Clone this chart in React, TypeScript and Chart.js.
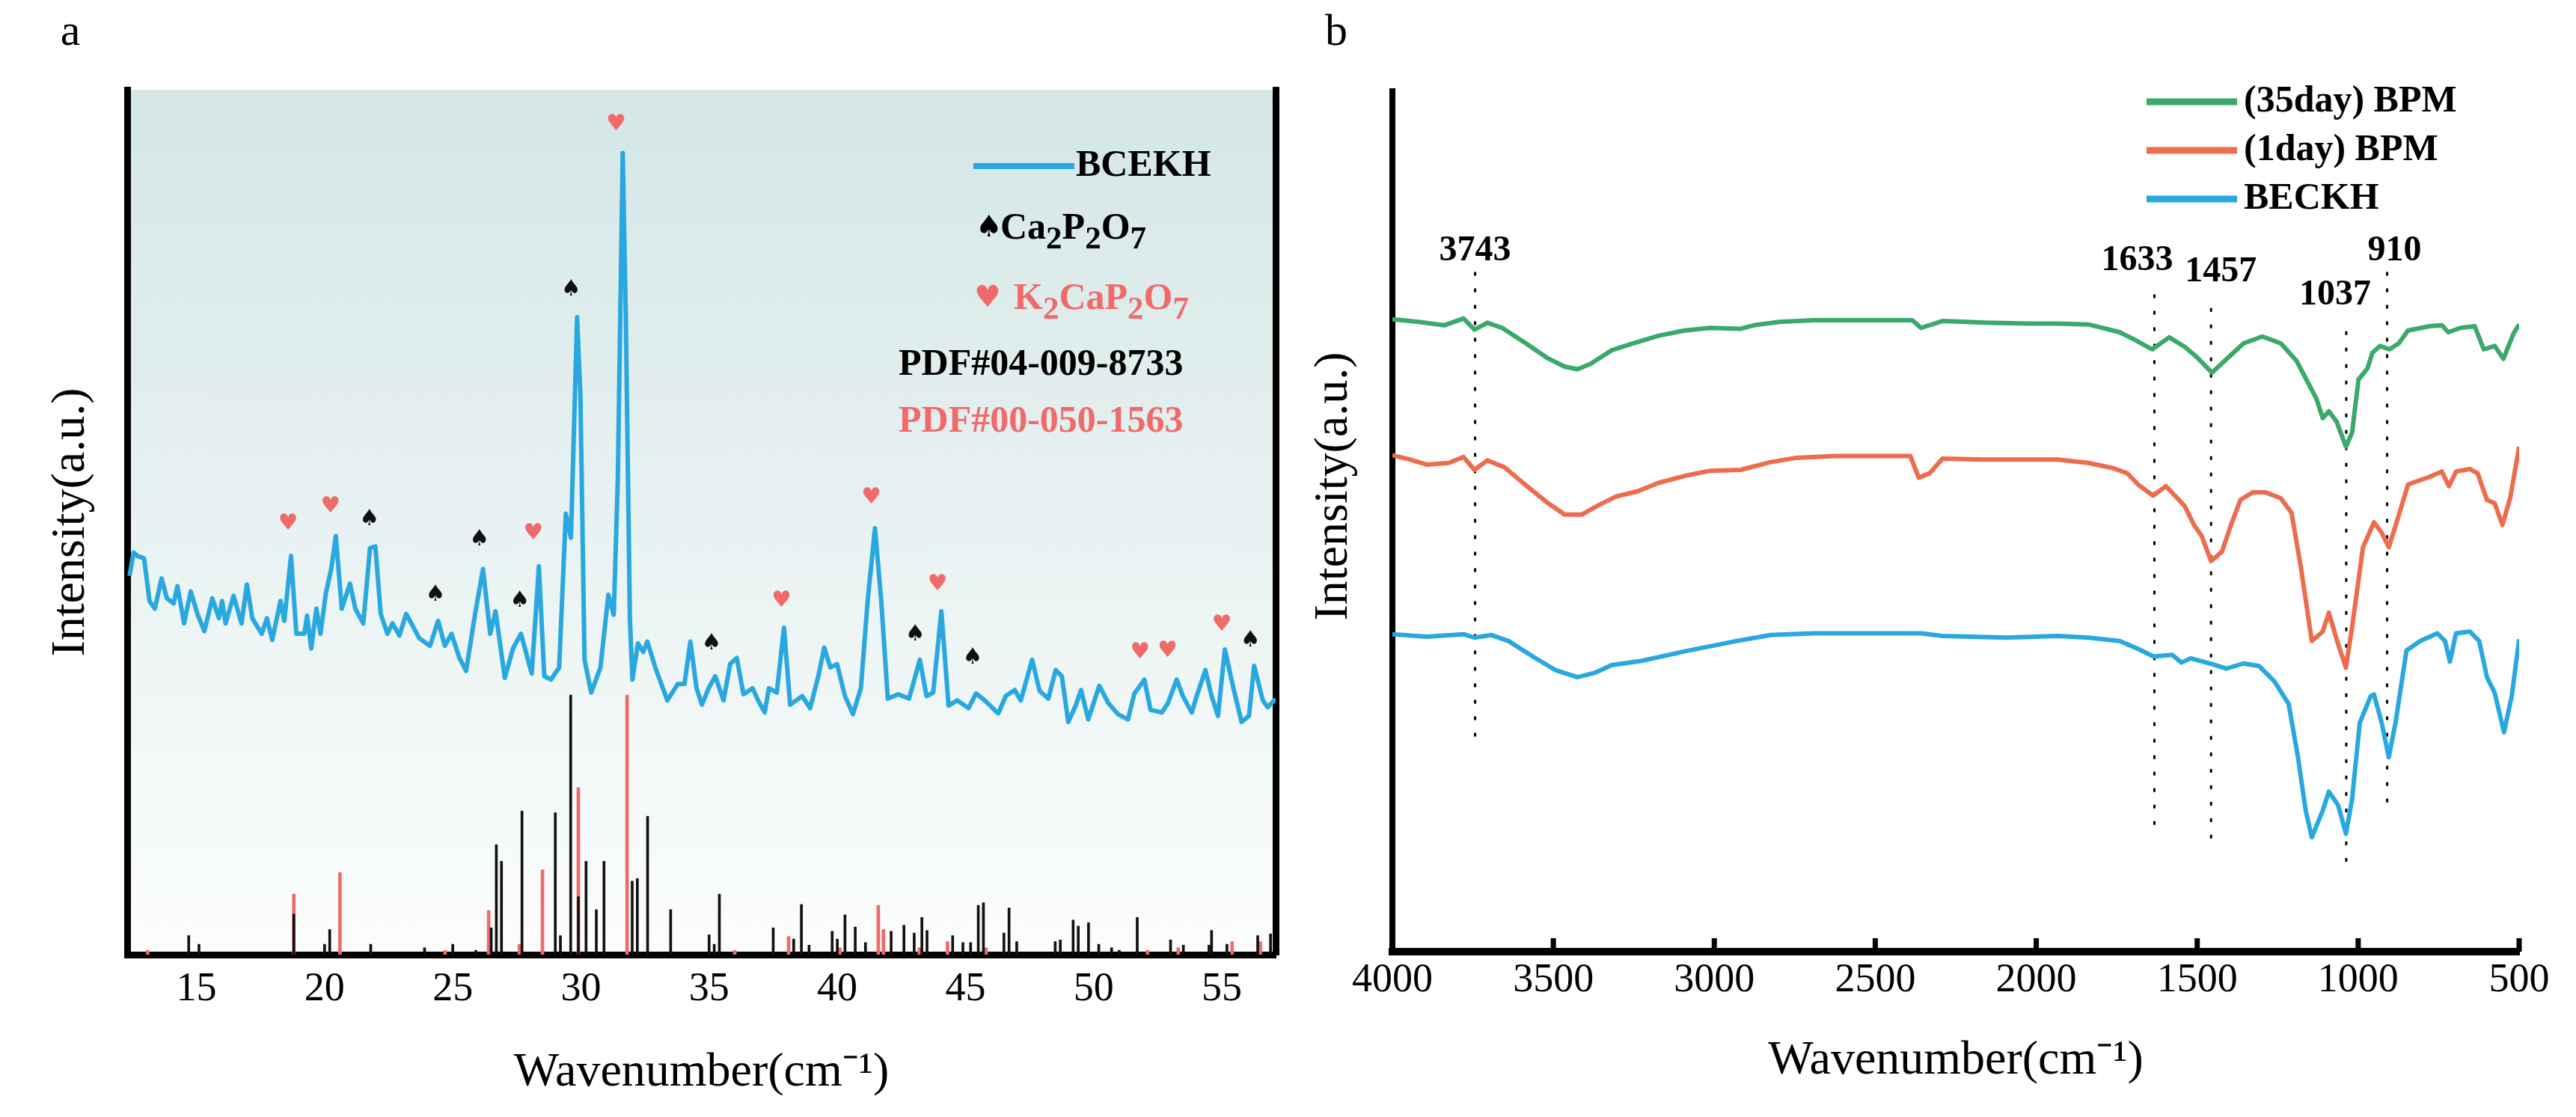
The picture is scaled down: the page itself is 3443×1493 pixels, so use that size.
import { useEffect, useRef } from "react"
import { Chart, registerables } from "chart.js"

Chart.register(...registerables)

const SERIF = '"Liberation Serif", "Times New Roman", serif'
const SUIT = '"DejaVu Sans", sans-serif'
const BLUE = "#29a8e0"
const RED = "#f06a6a"
const GREEN = "#3aa96a"
const ORANGE = "#ed6c4e"

// ---- panel a: XRD of BCEKH ----
const xrdAngle = [
  12.39, 12.55, 12.7, 12.96, 13.17, 13.38, 13.64, 13.85, 14.11, 14.26, 14.52, 14.78, 15.04, 15.31, 15.62,
  15.88, 16.0, 16.14, 16.45, 16.76, 16.97, 17.18, 17.55, 17.75, 17.96, 18.28, 18.43, 18.69, 18.9, 19.21,
  19.32, 19.48, 19.68, 19.84, 20.05, 20.26, 20.44, 20.67, 20.99, 21.2, 21.51, 21.77, 21.98, 22.19, 22.45,
  22.65, 22.92, 23.18, 23.44, 23.69, 24.11, 24.43, 24.69, 24.95, 25.26, 25.52, 25.89, 26.18, 26.46, 26.67,
  27.03, 27.35, 27.66, 28.08, 28.36, 28.57, 28.83, 29.15, 29.41, 29.61, 29.85, 29.98, 30.14, 30.4, 30.76,
  31.07, 31.28, 31.44, 31.63, 31.75, 31.91, 32.01, 32.22, 32.43, 32.59, 32.9, 33.37, 33.78, 34.04, 34.27,
  34.51, 34.72, 34.98, 35.24, 35.56, 35.82, 36.08, 36.34, 36.7, 36.91, 37.17, 37.33, 37.64, 37.92, 38.16,
  38.63, 38.94, 39.26, 39.49, 39.73, 39.99, 40.3, 40.61, 40.92, 41.19, 41.47, 41.71, 41.97, 42.38, 42.8,
  43.22, 43.48, 43.74, 44.06, 44.34, 44.68, 45.12, 45.41, 45.75, 46.28, 46.57, 46.92, 47.16, 47.6, 47.89,
  48.23, 48.52, 48.76, 49.01, 49.3, 49.51, 49.79, 50.22, 50.57, 50.95, 51.34, 51.59, 51.98, 52.22, 52.66,
  52.9, 53.24, 53.48, 53.83, 54.02, 54.36, 54.6, 54.85, 55.12, 55.43, 55.77, 56.06, 56.26, 56.6, 56.79,
  57.04, 57.1,
]
const xrdIntensity = [
  43.8, 46.5, 46.1, 45.8, 40.9, 40.0, 43.5, 41.2, 40.6, 42.6, 38.3, 42.0, 39.4, 37.4, 41.2,
  38.9, 40.9, 38.3, 41.5, 38.3, 42.8, 38.9, 37.1, 38.9, 36.4, 40.9, 38.6, 46.1, 37.1, 37.1,
  39.2, 35.4, 40.0, 37.1, 41.8, 44.6, 48.4, 40.0, 42.9, 40.0, 38.3, 47.0, 47.2, 39.4, 37.1,
  38.3, 36.9, 39.4, 38.0, 36.6, 35.7, 38.6, 35.7, 37.1, 34.3, 32.8, 39.7, 44.6, 37.1, 39.7,
  32.0, 35.4, 37.1, 32.5, 44.9, 32.2, 31.8, 33.2, 51.0, 48.2, 73.7, 64.6, 34.1, 30.3, 33.2,
  41.6, 39.3, 55.2, 92.7, 73.9, 38.8, 31.8, 36.0, 35.0, 36.2, 33.2, 29.4, 31.3, 31.3, 36.2,
  30.8, 28.9, 30.8, 32.2, 29.4, 33.6, 34.3, 30.1, 30.8, 29.4, 28.0, 30.8, 30.3, 37.8, 28.9,
  29.9, 28.5, 32.2, 35.5, 33.2, 33.6, 29.9, 27.8, 30.8, 41.1, 49.3, 41.1, 29.6, 30.1, 29.6,
  34.1, 29.9, 30.3, 39.7, 28.8, 29.4, 28.5, 30.2, 29.4, 27.9, 29.9, 30.6, 29.4, 34.1, 30.5,
  29.6, 32.9, 32.2, 26.9, 28.8, 30.6, 27.2, 31.1, 29.1, 27.8, 27.2, 30.2, 31.8, 28.3, 28.0,
  29.1, 31.8, 29.9, 28.0, 29.9, 32.9, 29.9, 27.6, 35.3, 31.1, 26.9, 27.6, 33.4, 29.4, 28.6,
  29.4, 29.2,
]

// reference card PDF#04-009-8733 (Ca2P2O7), black sticks
const pdfCaAngle = [
  14.7, 15.1, 18.8, 20.0, 20.2, 21.8, 23.9, 25.0, 25.9, 26.5, 26.7, 26.9, 27.7, 29.0, 29.2, 29.6, 29.9,
  30.2, 30.6, 30.9, 32.0, 32.2, 32.6, 33.5, 35.0, 35.2, 35.4, 37.5, 38.3, 38.6, 38.9, 39.8, 40.0, 40.3,
  40.7, 41.1, 42.1, 42.6, 43.0, 43.3, 43.5, 44.5, 44.9, 45.2, 45.5, 45.7, 46.5, 46.7, 47.0, 48.5, 48.7,
  49.2, 49.4, 49.8, 50.2, 50.7, 51.0, 51.7, 53.0, 53.5, 54.5, 54.6, 55.2, 56.4, 56.9,
]
const pdfCaHeight = [
  2.2, 1.2, 4.7, 1.2, 2.9, 1.2, 0.8, 1.2, 0.5, 3.1, 12.7, 10.8, 16.6, 16.4, 2.2, 30.0, 6.7,
  10.8, 5.2, 10.8, 8.5, 8.8, 16.0, 5.2, 2.3, 1.2, 7.0, 3.1, 1.8, 5.8, 1.1, 2.7, 1.8, 4.6,
  3.2, 1.4, 2.7, 3.4, 2.5, 4.3, 2.8, 2.2, 1.4, 1.4, 5.7, 6.0, 2.5, 5.4, 1.5, 1.5, 1.7,
  4.0, 3.3, 3.7, 1.2, 0.8, 0.5, 4.3, 1.7, 1.1, 1.1, 2.8, 1.2, 2.2, 2.4,
]

// reference card PDF#00-050-1563 (K2CaP2O7), red sticks
const pdfKAngle = [
  13.1, 18.8, 20.6, 24.7, 26.4, 27.6, 28.5, 29.9, 31.8, 36.0, 38.1, 40.1, 41.6, 41.8, 43.2, 44.3, 45.8,
  52.1, 53.3, 55.4, 56.5,
]
const pdfKHeight = [
  0.5, 7.0, 9.5, 0.5, 5.1, 1.2, 9.8, 19.3, 30.0, 0.5, 2.1, 0.8, 5.7, 2.9, 0.8, 1.5, 0.8,
  0.5, 0.8, 1.5, 1.5,
]

// phase markers above the peaks
const spadeAngle = [21.75, 24.32, 26.04, 27.61, 29.61, 35.09, 43.04, 45.28, 56.11]
const spadeLevel = [50.3, 41.6, 48.0, 40.9, 76.9, 36.0, 37.0, 34.3, 36.3]
const heartAngle = [18.57, 20.23, 28.14, 31.37, 37.82, 41.32, 43.91, 51.81, 52.88, 55.0]
const heartLevel = [49.8, 51.8, 48.7, 96.0, 40.9, 52.8, 42.8, 34.9, 35.1, 38.1]

const xrdTicks = [15, 20, 25, 30, 35, 40, 45, 50, 55]

// ---- panel b: FTIR ----
const ftirTicks = [4000, 3500, 3000, 2500, 2000, 1500, 1000, 500]

const bpm35Wn = [
  4000, 3919, 3839, 3779, 3745, 3705, 3659, 3585, 3519, 3465, 3425, 3385, 3319, 3252, 3172, 3092, 3012,
  2918, 2878, 2798, 2691, 2558, 2385, 2358, 2291, 2158, 2025, 1934, 1838, 1741, 1693, 1640, 1587, 1539,
  1501, 1454, 1414, 1356, 1298, 1240, 1192, 1154, 1130, 1110, 1091, 1067, 1038, 1019, 999, 971, 956,
  932, 903, 874, 845, 778, 740, 720, 682, 638, 610, 576, 549, 518, 500,
]
const bpm35Value = [
  73.5, 73.2, 72.8, 73.6, 72.3, 73.1, 72.5, 70.7, 69.0, 68.0, 67.7, 68.3, 69.9, 70.7, 71.6, 72.2, 72.5,
  72.4, 72.8, 73.2, 73.4, 73.4, 73.4, 72.5, 73.3, 73.1, 73.0, 73.0, 72.9, 72.0, 71.1, 70.0, 71.4, 70.3,
  69.1, 67.3, 68.7, 70.7, 71.5, 70.7, 68.7, 66.0, 64.3, 62.0, 62.8, 61.6, 58.7, 60.3, 66.5, 67.8, 69.6,
  70.4, 70.0, 70.7, 72.2, 72.7, 72.8, 72.0, 72.5, 72.7, 70.0, 70.4, 68.9, 71.8, 72.9,
]

const bpm1Wn = [
  4000, 3946, 3892, 3825, 3779, 3745, 3705, 3652, 3585, 3519, 3465, 3412, 3359, 3305, 3239, 3172, 3092,
  3012, 2918, 2825, 2745, 2625, 2491, 2391, 2365, 2331, 2291, 2158, 1934, 1838, 1761, 1717, 1684, 1637,
  1597, 1539, 1510, 1486, 1457, 1423, 1395, 1366, 1327, 1289, 1240, 1207, 1178, 1144, 1110, 1091, 1067,
  1038, 1019, 985, 951, 927, 905, 879, 845, 778, 740, 718, 696, 653, 629, 600, 576, 552, 528, 500,
]
const bpm1Value = [
  57.7, 57.2, 56.6, 56.8, 57.5, 56.0, 57.1, 56.3, 54.2, 52.2, 50.8, 50.8, 51.9, 52.9, 53.5, 54.5, 55.3,
  55.9, 56.0, 56.9, 57.4, 57.6, 57.6, 57.6, 55.1, 55.6, 57.3, 57.2, 57.2, 56.8, 56.2, 55.6, 54.3, 53.0,
  54.1, 51.8, 49.6, 48.3, 45.4, 46.5, 49.6, 52.5, 53.4, 53.4, 52.7, 51.0, 44.7, 36.1, 37.2, 39.4, 36.3,
  33.0, 37.7, 47.0, 49.9, 48.7, 47.0, 50.1, 54.3, 55.2, 55.8, 54.1, 55.8, 56.1, 55.6, 52.5, 52.1, 49.6, 52.7, 58.7,
]

const beckhWn = [
  4000, 3892, 3779, 3745, 3692, 3639, 3559, 3492, 3425, 3372, 3319, 3225, 3092, 2932, 2825, 2691, 2358,
  2291, 2091, 1934, 1838, 1741, 1684, 1635, 1578, 1549, 1520, 1452, 1409, 1356, 1308, 1260, 1216, 1187,
  1163, 1144, 1110, 1091, 1062, 1038, 1019, 995, 961, 951, 927, 905, 884, 850, 807, 754, 730, 715, 696,
  653, 624, 600, 576, 547, 523, 500,
]
const beckhValue = [
  36.9, 36.6, 36.9, 36.5, 36.8, 36.1, 34.2, 32.7, 31.9, 32.4, 33.3, 33.8, 34.9, 36.1, 36.8, 37.0, 37.0,
  36.7, 36.5, 36.7, 36.5, 36.1, 35.2, 34.3, 34.5, 33.6, 34.1, 33.4, 32.9, 33.5, 33.2, 31.4, 28.8, 22.6,
  16.4, 13.3, 16.4, 18.6, 17.0, 13.7, 17.7, 26.6, 29.7, 29.9, 26.6, 22.6, 26.6, 35.0, 36.1, 37.0, 36.1, 33.7, 37.0,
  37.2, 36.1, 31.9, 30.1, 25.5, 29.7, 36.3,
]

// marked bands, drawn as dotted guide lines
const peakWn = [3743, 1633, 1457, 1037, 910]
const peakTop = [79, 76.4, 74.8, 72.1, 79]
const peakBottom = [24, 13.8, 12.1, 9.4, 16.2]

const pairs = (xs: number[], ys: number[]) => xs.map((x, i) => ({ x, y: ys[i] }))

type Part = [string, boolean]

function drawFormula(ctx: CanvasRenderingContext2D, parts: Part[], x: number, y: number, size: number) {
  let cx = x
  for (const [text, sub] of parts) {
    ctx.font = `bold ${sub ? Math.round(size * 0.85) : size}px ${SERIF}`
    ctx.fillText(text, cx, sub ? y + size * 0.3 : y)
    cx += ctx.measureText(text).width
  }
}

const xrdDecor = {
  id: "xrdDecor",
  beforeDraw(chart: any) {
    const { ctx, chartArea } = chart
    const { left, top, right, bottom } = chartArea
    const g = ctx.createLinearGradient(0, top, 0, bottom)
    g.addColorStop(0, "#d4e6e6")
    g.addColorStop(1, "#fcfdfd")
    ctx.save()
    ctx.fillStyle = g
    ctx.fillRect(left, top, right - left, bottom - top)
    ctx.restore()
  },
  afterDraw(chart: any) {
    const { ctx, scales } = chart
    const x = scales.x
    const y = scales.y
    ctx.save()
    ctx.textAlign = "center"
    ctx.textBaseline = "middle"
    ctx.font = `30px ${SUIT}`
    ctx.fillStyle = "#111"
    spadeAngle.forEach((a, i) => ctx.fillText("\u2660", x.getPixelForValue(a), y.getPixelForValue(spadeLevel[i])))
    ctx.fillStyle = RED
    heartAngle.forEach((a, i) => ctx.fillText("\u2665", x.getPixelForValue(a), y.getPixelForValue(heartLevel[i])))

    // legend
    ctx.textAlign = "left"
    ctx.strokeStyle = BLUE
    ctx.lineWidth = 8
    ctx.beginPath()
    ctx.moveTo(1301, 222)
    ctx.lineTo(1436, 222)
    ctx.stroke()
    ctx.fillStyle = "#000"
    ctx.font = `bold 50px ${SERIF}`
    ctx.fillText("BCEKH", 1438, 222)

    ctx.font = `40px ${SUIT}`
    ctx.fillText("\u2660", 1304, 306)
    drawFormula(ctx, [["Ca", false], ["2", true], ["P", false], ["2", true], ["O", false], ["7", true]], 1337, 306, 50)

    ctx.fillStyle = RED
    ctx.font = `40px ${SUIT}`
    ctx.fillText("\u2665", 1302, 400)
    drawFormula(ctx, [["K", false], ["2", true], ["CaP", false], ["2", true], ["O", false], ["7", true]], 1355, 400, 50)

    ctx.font = `bold 50px ${SERIF}`
    ctx.fillStyle = "#000"
    ctx.fillText("PDF#04-009-8733", 1201, 488)
    ctx.fillStyle = RED
    ctx.fillText("PDF#00-050-1563", 1201, 564)

    ctx.fillStyle = "#000"
    ctx.font = `60px ${SERIF}`
    ctx.textAlign = "center"
    ctx.fillText("a", 94, 44)
    ctx.restore()
  },
}

const peakLabelShift = [
  [0, -28],
  [-23, -45],
  [13, -48],
  [-15, -48],
  [10, -28],
]

const ftirDecor = {
  id: "ftirDecor",
  afterDraw(chart: any) {
    const { ctx, chartArea, scales } = chart
    const x = scales.x
    const y = scales.y
    ctx.save()
    // inward tick marks
    ctx.strokeStyle = "#000"
    ctx.lineWidth = 7
    x.ticks.forEach((t: any) => {
      const px = x.getPixelForValue(t.value)
      ctx.beginPath()
      ctx.moveTo(px, chartArea.bottom)
      ctx.lineTo(px, chartArea.bottom - 18)
      ctx.stroke()
    })

    ctx.fillStyle = "#000"
    ctx.textAlign = "center"
    ctx.textBaseline = "middle"
    ctx.font = `bold 48px ${SERIF}`
    peakWn.forEach((w, i) => {
      const [dx, dy] = peakLabelShift[i]
      ctx.fillText(String(w), x.getPixelForValue(w) + dx, y.getPixelForValue(peakTop[i]) + dy)
    })

    // legend
    const rows: [string, string][] = [
      ["(35day) BPM", GREEN],
      ["(1day) BPM", ORANGE],
      ["BECKH", BLUE],
    ]
    ctx.textAlign = "left"
    ctx.font = `bold 50px ${SERIF}`
    ctx.lineWidth = 9
    rows.forEach(([label, color], i) => {
      const ry = 136 + i * 65
      ctx.strokeStyle = color
      ctx.beginPath()
      ctx.moveTo(1139, ry)
      ctx.lineTo(1260, ry)
      ctx.stroke()
      ctx.fillText(label, 1269, ry)
    })

    ctx.textAlign = "center"
    ctx.font = `60px ${SERIF}`
    ctx.fillText("b", 56, 44)

    ctx.translate(53, 650)
    ctx.rotate(-Math.PI / 2)
    ctx.font = `64px ${SERIF}`
    ctx.fillText("Intensity(a.u.)", 0, 0)
    ctx.restore()
  },
}

const tickFont = { family: SERIF, size: 54, lineHeight: 1 }
const titleFont = { family: SERIF, size: 64, lineHeight: 1 }

export default function App() {
  const xrdRef = useRef<HTMLCanvasElement | null>(null)
  const ftirRef = useRef<HTMLCanvasElement | null>(null)

  useEffect(() => {
    if (!xrdRef.current || !ftirRef.current) return

    const xrd = new Chart(xrdRef.current, {
      type: "bar",
      data: {
        datasets: [
          {
            type: "line",
            label: "BCEKH",
            data: pairs(xrdAngle, xrdIntensity),
            borderColor: BLUE,
            borderWidth: 6,
            borderJoinStyle: "round",
            pointRadius: 0,
            tension: 0,
            order: 0,
          },
          {
            type: "bar",
            label: "PDF#04-009-8733",
            data: pairs(pdfCaAngle, pdfCaHeight),
            backgroundColor: "#111",
            barThickness: 3,
            stack: "pdf",
            order: 1,
          },
          {
            type: "bar",
            label: "PDF#00-050-1563",
            data: pairs(pdfKAngle, pdfKHeight),
            backgroundColor: RED,
            barThickness: 4,
            stack: "pdf",
            order: 2,
          },
        ],
      },
      options: {
        responsive: false,
        animation: false,
        layout: { padding: { left: 0, top: 120, right: 25, bottom: 0 } },
        plugins: { legend: { display: false }, tooltip: { enabled: false } },
        scales: {
          x: {
            type: "linear",
            min: 12.3,
            max: 57.1,
            offset: false,
            grid: { display: false, drawTicks: false, offset: false },
            border: { display: true, width: 9, color: "#000" },
            ticks: {
              autoSkip: false,
              maxRotation: 0,
              minRotation: 0,
              padding: 20,
              color: "#000",
              font: tickFont,
              callback: (v: any) => String(v),
            },
            title: {
              display: true,
              text: "Wavenumber(cm\u207B\u00B9)",
              color: "#000",
              font: titleFont,
              padding: { top: 0, bottom: 27 },
            },
            afterBuildTicks: (s: any) => {
              s.ticks = xrdTicks.map((value) => ({ value }))
            },
            afterFit: (s: any) => {
              s.height = 217
            },
          },
          y: {
            min: 0,
            max: 100,
            stacked: false,
            grid: { display: false, drawTicks: false },
            border: { display: true, width: 9, color: "#000" },
            ticks: { display: false },
            title: {
              display: true,
              text: "Intensity(a.u.)",
              color: "#000",
              font: titleFont,
              padding: { top: 63, bottom: 0 },
            },
            afterFit: (s: any) => {
              s.width = 170
            },
          },
          yRight: {
            axis: "y",
            position: "right",
            min: 0,
            max: 100,
            grid: { display: false, drawTicks: false },
            border: { display: true, width: 9, color: "#000" },
            ticks: { display: false },
            afterFit: (s: any) => {
              s.width = 0
            },
          },
        },
      },
      plugins: [xrdDecor],
    } as any)

    const ftir = new Chart(ftirRef.current, {
      type: "line",
      data: {
        datasets: [
          ...peakWn.map((w, i) => ({
            label: String(w),
            data: [
              { x: w, y: peakTop[i] },
              { x: w, y: peakBottom[i] },
            ],
            borderColor: "#000",
            borderWidth: 3,
            borderDash: [5, 17],
            pointRadius: 0,
            order: 5,
          })),
          {
            label: "(35day) BPM",
            data: pairs(bpm35Wn, bpm35Value),
            borderColor: GREEN,
            borderWidth: 6,
            borderJoinStyle: "round",
            pointRadius: 0,
            order: 1,
          },
          {
            label: "(1day) BPM",
            data: pairs(bpm1Wn, bpm1Value),
            borderColor: ORANGE,
            borderWidth: 6,
            borderJoinStyle: "round",
            pointRadius: 0,
            order: 2,
          },
          {
            label: "BECKH",
            data: pairs(beckhWn, beckhValue),
            borderColor: BLUE,
            borderWidth: 6,
            borderJoinStyle: "round",
            pointRadius: 0,
            order: 3,
          },
        ],
      },
      options: {
        responsive: false,
        animation: false,
        layout: { padding: { left: 0, top: 122, right: 76, bottom: 0 } },
        plugins: { legend: { display: false }, tooltip: { enabled: false } },
        scales: {
          x: {
            type: "linear",
            reverse: true,
            min: 500,
            max: 4000,
            grid: { display: false, drawTicks: false },
            border: { display: true, width: 10, color: "#000" },
            ticks: {
              autoSkip: false,
              maxRotation: 0,
              minRotation: 0,
              padding: 12,
              color: "#000",
              font: tickFont,
              callback: (v: any) => String(v),
            },
            title: {
              display: true,
              text: "Wavenumber(cm\u207B\u00B9)",
              color: "#000",
              font: titleFont,
              padding: { top: 0, bottom: 43 },
            },
            afterBuildTicks: (s: any) => {
              s.ticks = ftirTicks.map((value) => ({ value }))
            },
            afterFit: (s: any) => {
              s.height = 221
            },
          },
          y: {
            min: 0,
            max: 100,
            grid: { display: false, drawTicks: false },
            border: { display: true, width: 8, color: "#000" },
            ticks: { display: false },
            afterFit: (s: any) => {
              s.width = 131
            },
          },
        },
      },
      plugins: [ftirDecor],
    } as any)

    return () => {
      xrd.destroy()
      ftir.destroy()
    }
  }, [])

  return (
    <div
      style={{
        position: "fixed",
        left: 0,
        top: 0,
        width: 3443,
        height: 1493,
        background: "#fff",
        overflow: "hidden",
      }}
    >
      <canvas ref={xrdRef} width={1730} height={1493} style={{ position: "absolute", left: 0, top: 0 }} />
      <canvas ref={ftirRef} width={1713} height={1493} style={{ position: "absolute", left: 1730, top: 0 }} />
    </div>
  )
}
